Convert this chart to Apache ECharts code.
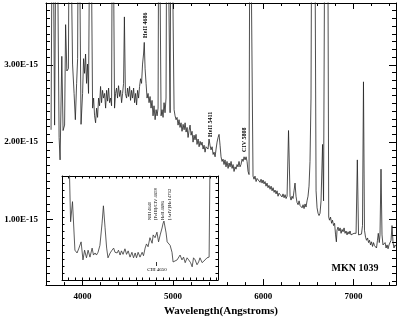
<!DOCTYPE html>
<html><head><meta charset="utf-8">
<script src="https://cdn.jsdelivr.net/npm/echarts@6/dist/echarts.min.js"></script>
<style>html,body{margin:0;padding:0;background:#fff}#c{width:400px;height:322px}</style>
</head><body><div id="c"></div>
<script>
// Main spectrum: wavelength (Angstrom) and flux (units of 1E-15)
const wavelength = [3651,3668,3690,3712,3740,3751,3770,3784,3801,3812,3826,3843,3856,3878,3889,3906,3920,3934,3945,3956,3972,3983,4000,4011,4022,4033,4044,4055,4066,4077,4086,4100,4111,4122,4133,4144,4155,4166,4177,4188,4199,4210,4221,4232,4244,4255,4266,4277,4288,4299,4310,4321,4332,4343,4354,4365,4376,4387,4398,4410,4421,4432,4443,4454,4463,4474,4487,4498,4509,4520,4531,4542,4553,4565,4576,4587,4598,4609,4620,4631,4642,4653,4664,4675,4683,4692,4703,4714,4725,4736,4747,4758,4769,4780,4791,4803,4814,4825,4836,4845,4858,4869,4880,4891,4902,4913,4924,4935,4952,4969,4980,5002,5013,5024,5035,5046,5057,5068,5079,5090,5101,5113,5124,5135,5146,5157,5168,5179,5190,5201,5212,5223,5234,5245,5256,5267,5279,5290,5301,5312,5323,5334,5345,5356,5367,5378,5389,5400,5411,5422,5434,5445,5456,5467,5478,5489,5500,5511,5522,5533,5544,5555,5566,5577,5588,5599,5611,5622,5633,5644,5655,5666,5677,5688,5699,5710,5721,5732,5743,5754,5766,5777,5788,5799,5810,5821,5832,5843,5854,5871,5887,5898,5909,5921,5932,5943,5954,5965,5976,5987,5998,6009,6020,6031,6042,6053,6064,6076,6087,6098,6109,6120,6131,6142,6153,6164,6175,6186,6197,6208,6219,6231,6242,6253,6264,6280,6297,6308,6319,6330,6341,6352,6363,6374,6386,6397,6408,6419,6430,6441,6452,6463,6474,6485,6496,6507,6518,6529,6540,6568,6585,6596,6607,6618,6629,6640,6657,6668,6685,6712,6725,6734,6745,6757,6767,6779,6790,6801,6810,6817,6828,6839,6851,6862,6873,6884,6895,6906,6917,6928,6939,6950,6961,6972,6983,6994,7005,7016,7028,7042,7055,7066,7077,7088,7099,7110,7121,7133,7144,7155,7166,7177,7188,7199,7210,7221,7232,7243,7254,7265,7274,7285,7293,7304,7315,7326,7337,7349,7360,7371,7382,7393,7404,7415,7426,7437,7448,7459,7470];
const flux = [2.16,6,2.22,6,2.06,1.77,3.11,2.15,2.22,3.52,2.92,2.95,6,6,3.01,2.63,2.29,2.76,3.08,6,6,2.23,2.63,3.08,2.89,3.14,2.76,3.01,2.63,2.61,6,6,2.44,2.57,2.34,2.25,2.44,2.32,2.57,2.47,2.72,2.51,2.67,2.57,2.63,2.44,2.67,2.53,2.70,2.51,2.57,2.47,6,6,2.44,2.63,2.70,2.57,2.73,2.59,2.67,2.51,2.63,2.76,3.62,2.63,2.57,2.70,2.59,2.72,2.54,2.67,2.57,2.70,2.51,2.63,2.48,2.67,2.57,2.72,2.82,2.76,3.01,3.14,3.29,2.95,2.76,2.57,2.63,2.51,2.59,2.44,2.54,2.34,2.47,2.29,2.42,2.34,2.44,6,6,2.34,2.42,2.32,2.51,2.38,2.57,6,6,2.38,6,6,2.42,2.34,2.29,2.32,2.22,2.29,2.19,2.25,2.14,2.23,2.16,2.25,2.13,2.19,2.06,2.15,2.22,2.09,2.14,2.00,2.09,2.03,2.10,1.97,2.04,1.94,2.01,1.96,2.00,1.91,1.96,1.87,1.94,1.96,1.91,2.04,1.96,1.90,1.94,1.84,1.87,1.81,1.91,2.00,2.06,2.10,1.96,1.81,1.75,1.78,1.71,1.77,1.68,1.75,1.66,1.73,1.68,1.75,1.66,1.71,1.62,1.68,1.65,1.71,1.68,1.75,1.68,1.71,1.78,1.75,1.81,1.77,1.81,1.75,1.62,1.58,6,6,1.56,1.52,1.56,1.49,1.53,1.51,1.54,1.48,1.52,1.47,1.51,1.46,1.49,1.43,1.47,1.41,1.44,1.39,1.43,1.37,1.41,1.35,1.38,1.33,1.37,1.30,1.34,1.32,1.35,1.29,1.33,1.28,1.32,1.27,1.30,2.15,1.30,1.25,1.30,1.27,1.37,1.47,1.30,1.22,1.19,1.24,1.18,1.20,1.15,1.19,1.14,1.20,1.16,1.24,1.30,1.43,1.75,2.57,6,6,1.37,1.15,1.08,1.05,1.08,1.24,1.97,1.24,6,6,1.03,0.99,1.03,0.95,0.99,0.92,0.95,0.80,0.71,0.86,0.90,0.85,0.89,0.82,0.87,0.84,0.89,0.82,0.85,0.80,0.84,0.81,0.85,0.80,0.82,0.78,0.82,0.80,0.82,1.77,0.80,0.82,0.78,0.81,0.92,2.78,0.86,0.77,0.73,0.76,0.70,0.73,0.67,0.71,0.65,0.70,0.66,0.68,0.63,0.73,0.82,0.70,0.80,1.65,0.80,0.67,0.65,0.70,0.63,0.67,0.62,0.67,0.65,0.73,0.92,0.70,0.63,0.67,0.65];

// Inset: zoom on the 4300-4880 A region (relative flux)
const insetWavelength = [4322,4332,4339,4348,4356,4363,4371,4378,4384,4391,4397,4404,4412,4417,4423,4428,4434,4441,4449,4454,4460,4466,4471,4479,4486,4492,4497,4505,4510,4516,4521,4527,4534,4540,4546,4553,4560,4566,4572,4577,4583,4590,4598,4603,4609,4614,4620,4627,4635,4639,4646,4653,4659,4665,4672,4676,4679,4687,4691,4696,4702,4709,4713,4720,4728,4733,4739,4746,4752,4758,4765,4771,4778,4784,4789,4795,4802,4808,4813,4821,4826,4832,4839,4847,4852];
const insetFlux = [2.5,0.84,1.13,0.43,0.39,0.46,0.55,0.29,0.43,0.32,0.43,0.33,0.46,0.36,0.39,0.36,0.40,0.50,0.82,1.07,0.76,0.46,0.32,0.39,0.43,0.46,0.40,0.39,0.43,0.36,0.42,0.37,0.45,0.37,0.42,0.33,0.40,0.32,0.39,0.32,0.40,0.33,0.40,0.35,0.46,0.52,0.48,0.61,0.53,0.65,0.61,0.69,0.55,0.65,0.75,0.82,0.85,0.68,0.55,0.56,0.50,0.40,0.26,0.26,0.29,0.30,0.36,0.29,0.33,0.25,0.32,0.29,0.25,0.19,0.32,0.29,0.22,0.26,0.32,0.25,0.26,0.29,0.32,0.33,2.5];

// Tick positions
const xMajorTicks = [4000,5000,6000,7000];
const yMajorTicks = [1,2,3];
const xMinorTicks = []; for (let v = 3600; v <= 7400; v += 200) xMinorTicks.push(v);
const yMinorTicks = []; for (let i = 2; i <= 38; i++) yMinorTicks.push(i / 10);
const insetXTicks = []; for (let v = 4300; v <= 4875; v += 25) insetXTicks.push(v);
const insetYTicks = []; for (let i = 1; i <= 14; i++) insetYTicks.push(i / 10);

const SERIF = '"Liberation Serif", "DejaVu Serif", serif';
const X_MIN = 3595, X_MAX = 7470, Y_MIN = 0.15, Y_MAX = 3.8;
const IX_MIN = 4300, IX_MAX = 4880, IY_MIN = 0, IY_MAX = 1.5;

function xAx(grid, pos, ticks, len, line, labels, extra) {
  return Object.assign({
    type: 'value', gridIndex: grid, position: pos,
    min: grid === 0 ? X_MIN : IX_MIN, max: grid === 0 ? X_MAX : IX_MAX,
    axisLine: {show: line, onZero: false, lineStyle: {color: '#000', width: 1}},
    axisTick: {show: true, inside: true, length: len, customValues: ticks, lineStyle: {color: '#000', width: 1}},
    axisLabel: labels ? {show: true, customValues: ticks, color: '#000', fontFamily: SERIF, fontWeight: 'bold', fontSize: 9, margin: 7,
      formatter: v => String(v)} : {show: false},
    splitLine: {show: false}
  }, extra || {});
}
function yAx(grid, pos, ticks, len, line, labels, extra) {
  return Object.assign({
    type: 'value', gridIndex: grid, position: pos,
    min: grid === 0 ? Y_MIN : IY_MIN, max: grid === 0 ? Y_MAX : IY_MAX,
    axisLine: {show: line, onZero: false, lineStyle: {color: '#000', width: 1}},
    axisTick: {show: true, inside: true, length: len, customValues: ticks, lineStyle: {color: '#000', width: 1}},
    axisLabel: labels ? {show: true, customValues: ticks, color: '#000', fontFamily: SERIF, fontWeight: 'bold', fontSize: 9, margin: 8,
      formatter: v => v.toFixed(2) + 'E-15'} : {show: false},
    splitLine: {show: false}
  }, extra || {});
}

const insetZ = {z: 6};
const option = {
  animation: false,
  backgroundColor: '#fff',
  textStyle: {fontFamily: SERIF},
  grid: [
    {left: 46, top: 3, width: 350, height: 288, show: false},
    {left: 62, top: 176, width: 156, height: 104, show: true, backgroundColor: '#fff', borderWidth: 0, z: 5}
  ],
  xAxis: [
    xAx(0, 'bottom', xMajorTicks, 6, true, true, {name: 'Wavelength(Angstroms)', nameLocation: 'middle', nameGap: 17,
      nameTextStyle: {color: '#000', fontFamily: SERIF, fontWeight: 'bold', fontSize: 11}}),
    xAx(0, 'bottom', xMinorTicks, 3, false, false),
    xAx(0, 'top', xMajorTicks, 6, true, false),
    xAx(0, 'top', xMinorTicks, 3, false, false),
    xAx(1, 'bottom', insetXTicks, 2.5, true, false, insetZ),
    xAx(1, 'top', insetXTicks, 2.5, true, false, insetZ)
  ],
  yAxis: [
    yAx(0, 'left', yMajorTicks, 7, true, true),
    yAx(0, 'left', yMinorTicks, 4, false, false),
    yAx(0, 'right', yMajorTicks, 7, true, false),
    yAx(0, 'right', yMinorTicks, 4, false, false),
    yAx(1, 'left', insetYTicks, 2.5, true, false, insetZ),
    yAx(1, 'right', insetYTicks, 2.5, true, false, insetZ)
  ],
  series: [
    {type: 'line', xAxisIndex: 0, yAxisIndex: 0, z: 2, clip: true, symbol: 'none',
      lineStyle: {color: '#222', width: 0.8},
      data: wavelength.map((w, i) => [w, flux[i]])},
    {type: 'line', xAxisIndex: 4, yAxisIndex: 4, z: 7, clip: true, symbol: 'none',
      lineStyle: {color: '#333', width: 0.8},
      data: insetWavelength.map((w, i) => [w, insetFlux[i]])}
  ],
  graphic: [
    {type: 'text', x: 145, y: 38, rotation: Math.PI / 2, z: 20, style: {text: 'HeII 4686', fontFamily: SERIF, fontWeight: 'bold', fontSize: 6, fill: '#000', align: 'left', verticalAlign: 'middle'}},
    {type: 'text', x: 210, y: 137, rotation: Math.PI / 2, z: 20, style: {text: 'HeII 5411', fontFamily: SERIF, fontWeight: 'bold', fontSize: 6, fill: '#000', align: 'left', verticalAlign: 'middle'}},
    {type: 'text', x: 244.5, y: 152, rotation: Math.PI / 2, z: 20, style: {text: 'CIV 5808', fontFamily: SERIF, fontWeight: 'bold', fontSize: 6, fill: '#000', align: 'left', verticalAlign: 'middle'}},
    {type: 'text', x: 149.5, y: 220, rotation: Math.PI / 2, z: 20, style: {text: 'NIII 4640', fontFamily: SERIF, fontSize: 4.6, fill: '#000', align: 'left', verticalAlign: 'middle'}},
    {type: 'text', x: 156, y: 220, rotation: Math.PI / 2, z: 20, style: {text: '[FeIII]/CIV 4658', fontFamily: SERIF, fontSize: 4.6, fill: '#000', align: 'left', verticalAlign: 'middle'}},
    {type: 'text', x: 162.5, y: 220, rotation: Math.PI / 2, z: 20, style: {text: 'HeII 4686', fontFamily: SERIF, fontSize: 4.6, fill: '#000', align: 'left', verticalAlign: 'middle'}},
    {type: 'text', x: 169.5, y: 220, rotation: Math.PI / 2, z: 20, style: {text: '[ArIV]/HeI 4712', fontFamily: SERIF, fontSize: 4.6, fill: '#000', align: 'left', verticalAlign: 'middle'}},
    {type: 'line', z: 20, shape: {x1: 156.5, y1: 262, x2: 156.5, y2: 266}, style: {stroke: '#000', lineWidth: 0.8}},
    {type: 'text', x: 157, y: 270, z: 20, style: {text: 'CIII 4650', fontFamily: SERIF, fontSize: 5, fill: '#000', align: 'center', verticalAlign: 'middle'}},
    {type: 'text', x: 355, y: 268, z: 20, style: {text: 'MKN 1039', fontFamily: SERIF, fontWeight: 'bold', fontSize: 10, fill: '#000', align: 'center', verticalAlign: 'middle'}}
  ]
};
const chart = echarts.init(document.getElementById('c'), null, {renderer: 'canvas'});
chart.setOption(option);
</script></body></html>
